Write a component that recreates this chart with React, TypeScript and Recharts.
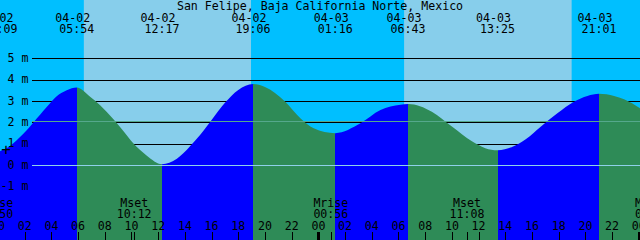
import {
  ComposedChart,
  Area,
  XAxis,
  YAxis,
  ReferenceArea,
  ReferenceLine,
  ReferenceDot,
} from "recharts";

const TITLE = "San Felipe, Baja California Norte, Mexico";

// hours counted from 04-02 00:00
const T_START = 0.15;
const T_END = 48.09;
const Y_MIN = -3.49;
const Y_MAX = 7.72;

// water level (m)
const TIMES = [
  0.15, 0.9, 1.4, 1.9, 2.4, 2.9, 3.4, 3.9, 4.4, 5.15, 5.9,
  6.9, 7.65, 8.65, 9.45, 10.1, 11.15, 12.28,
  13.4, 13.9, 14.4, 15.15, 16.0, 17.0, 18.0, 19.1,
  20.0, 21.5, 22.65, 23.65, 25.27,
  27.15, 28.65, 30.15, 30.72,
  32.5, 34.0, 35.5, 36.5, 37.42,
  38.5, 39.5, 40.65, 41.9, 43.15, 44.15, 45.02,
  46.15, 46.9, 48.09,
];
const LEVELS = [
  0.66, 0.9, 1.17, 1.47, 1.81, 2.18, 2.55, 2.9, 3.22, 3.5, 3.63,
  3.2, 2.8, 2.15, 1.55, 1.05, 0.45, 0.05,
  0.3, 0.57, 0.9, 1.43, 2.12, 2.92, 3.52, 3.8,
  3.66, 2.98, 2.2, 1.73, 1.5,
  1.96, 2.58, 2.83, 2.86,
  2.5, 1.81, 1.12, 0.8, 0.7,
  0.85, 1.2, 1.8, 2.43, 2.97, 3.24, 3.34,
  3.24, 3.08, 2.66,
];

// tide extremes shown along the top
const EVENT_TIMES = [0.15, 5.9, 12.283, 19.1, 25.267, 30.717, 37.417, 45.017];
const EVENT_DATES = ["04-02", "04-02", "04-02", "04-02", "04-03", "04-03", "04-03", "04-03"];
const EVENT_LABELS = ["00:09", "05:54", "12:17", "19:06", "01:16", "06:43", "13:25", "21:01"];
const EVENT_RISING = [true, false, true, false, true, false, true, false];

// daylight
const SUNRISE = [6.43, 30.42];
const SUNSET = [18.95, 42.97];

// moon events along the bottom
const MOON_TIMES = [-0.17, 10.2, 24.933, 35.133, 49.03];
const MOON_NAMES = ["Mrise", "Mset", "Mrise", "Mset", "Mrise"];
const MOON_LABELS = ["23:50", "10:12", "00:56", "11:08", "01:02"];

const HOUR_TICKS = [0, 2, 4, 6, 8, 10, 12, 14, 16, 18, 20, 22, 24, 26, 28, 30, 32, 34, 36, 38, 40, 42, 44, 46, 48];
const LEVEL_TICKS = [-1, 0, 1, 2, 3, 4, 5];
const GRID_LEVELS = [1, 2, 3, 4, 5];
const MEAN_LEVEL = 2.08;

const FONT = "'DejaVu Sans Mono', 'Liberation Mono', monospace";
const FS = 11.6;
const RISE = "#0000ff";
const FALL = "#2e8b57";
const GUTTER = 32;

const data = TIMES.map((t, i) => ({ t, h: LEVELS[i] }));

const txt = { fontFamily: FONT, fontSize: FS, fill: "#000" };

function HourTick(props: any) {
  const { x, payload } = props;
  const v = payload.value;
  const midnight = v % 24 === 0;
  const w = midnight ? 3 : 1;
  const cx = Math.round(x);
  return (
    <g>
      <text x={x} y={230} textAnchor="middle" {...txt}>
        {String(v % 24).padStart(2, "0")}
      </text>
      <rect x={cx - Math.floor(w / 2)} y={232} width={w} height={8} fill="#000" />
    </g>
  );
}

function TideTick(props: any) {
  const { x, index } = props;
  return (
    <g>
      <text x={x - 4} y={21.5} textAnchor="middle" {...txt}>
        {EVENT_DATES[index]}
      </text>
      <text x={x} y={33} textAnchor="middle" {...txt}>
        {EVENT_LABELS[index]}
      </text>
    </g>
  );
}

function MoonTick(props: any) {
  const { x, index } = props;
  return (
    <g>
      <text x={x} y={206.5} textAnchor="middle" {...txt}>
        {MOON_NAMES[index]}
      </text>
      <text x={x} y={218} textAnchor="middle" {...txt}>
        {MOON_LABELS[index]}
      </text>
      <rect x={Math.round(x)} y={232} width={1} height={8} fill="#000" />
    </g>
  );
}

function LevelTick(props: any) {
  const { y, payload } = props;
  return (
    <text x={28.5} y={y + 3.5} textAnchor="end" {...txt}>
      {`${payload.value} m`}
    </text>
  );
}

const hline = (color: string) => (p: any) => {
  const y = Math.round(p.y1) + 0.5;
  return <line x1={GUTTER} y1={y} x2={640} y2={y} stroke={color} strokeWidth={1} />;
};

export default function App() {
  const span = T_END - T_START;
  const stops = EVENT_TIMES.flatMap((t, i) => {
    const from = Math.max(0, (t - T_START) / span);
    const to = i + 1 < EVENT_TIMES.length ? (EVENT_TIMES[i + 1] - T_START) / span : 1;
    const c = EVENT_RISING[i] ? RISE : FALL;
    return [
      <stop key={`${i}a`} offset={from} stopColor={c} />,
      <stop key={`${i}b`} offset={to} stopColor={c} />,
    ];
  });

  return (
    <div style={{ position: "fixed", left: 0, top: 0, width: 640, height: 240, background: "#00bfff" }}>
      <ComposedChart width={640} height={240} data={data} margin={{ top: 0, right: 0, bottom: 0, left: 0 }}>
        <defs>
          <linearGradient id="tideFill" x1="0" y1="0" x2="1" y2="0">
            {stops}
          </linearGradient>
        </defs>

        {SUNRISE.map((s, i) => (
          <ReferenceArea
            key={`day${i}`}
            xAxisId="h"
            yAxisId="lv"
            x1={s}
            x2={SUNSET[i]}
            fill="#87ceeb"
            fillOpacity={1}
            stroke="none"
            zIndex={-300}
          />
        ))}

        {GRID_LEVELS.map((lv) => (
          <ReferenceLine key={`g${lv}`} xAxisId="h" yAxisId="lv" y={lv} stroke="#000" shape={hline("#000")} zIndex={-200} />
        ))}

        <Area
          xAxisId="h"
          yAxisId="lv"
          dataKey="h"
          type="monotone"
          stroke="none"
          fill="url(#tideFill)"
          fillOpacity={1}
          baseValue="dataMin"
          dot={false}
          activeDot={false}
          isAnimationActive={false}
        />

        <ReferenceLine xAxisId="h" yAxisId="lv" y={0} stroke="#8fd0ea" shape={hline("#8fd0ea")} zIndex={450} />
        <ReferenceLine xAxisId="h" yAxisId="lv" y={MEAN_LEVEL} stroke="#55a88c" shape={hline("#55a88c")} zIndex={450} />

        <ReferenceDot
          xAxisId="h"
          yAxisId="lv"
          x={TIMES[0]}
          y={LEVELS[0]}
          zIndex={460}
          shape={(p: any) => (
            <text x={p.cx + 6} y={p.cy + 4} textAnchor="middle" fontFamily={FONT} fontSize={16} fill="#000">
              +
            </text>
          )}
        />

        <XAxis
          xAxisId="h"
          dataKey="t"
          type="number"
          domain={[T_START, T_END]}
          allowDataOverflow
          ticks={HOUR_TICKS}
          interval={0}
          orientation="bottom"
          mirror
          height={30}
          axisLine={false}
          tickLine={false}
          tick={(p: any) => <HourTick {...p} />}
        />
        <XAxis
          xAxisId="tide"
          dataKey="t"
          type="number"
          domain={[T_START, T_END]}
          allowDataOverflow
          ticks={EVENT_TIMES}
          interval={0}
          orientation="top"
          mirror
          height={30}
          axisLine={false}
          tickLine={false}
          tick={(p: any) => <TideTick {...p} />}
        />
        <XAxis
          xAxisId="moon"
          dataKey="t"
          type="number"
          domain={[T_START, T_END]}
          allowDataOverflow
          ticks={MOON_TIMES}
          interval={0}
          orientation="bottom"
          mirror
          height={30}
          axisLine={false}
          tickLine={false}
          tick={(p: any) => <MoonTick {...p} />}
        />
        <YAxis
          yAxisId="lv"
          type="number"
          domain={[Y_MIN, Y_MAX]}
          allowDataOverflow
          ticks={LEVEL_TICKS}
          interval={0}
          mirror
          width={30}
          axisLine={false}
          tickLine={false}
          tick={(p: any) => <LevelTick {...p} />}
        />

        <text x={320} y={10} textAnchor="middle" {...txt}>
          {TITLE}
        </text>
      </ComposedChart>
    </div>
  );
}
